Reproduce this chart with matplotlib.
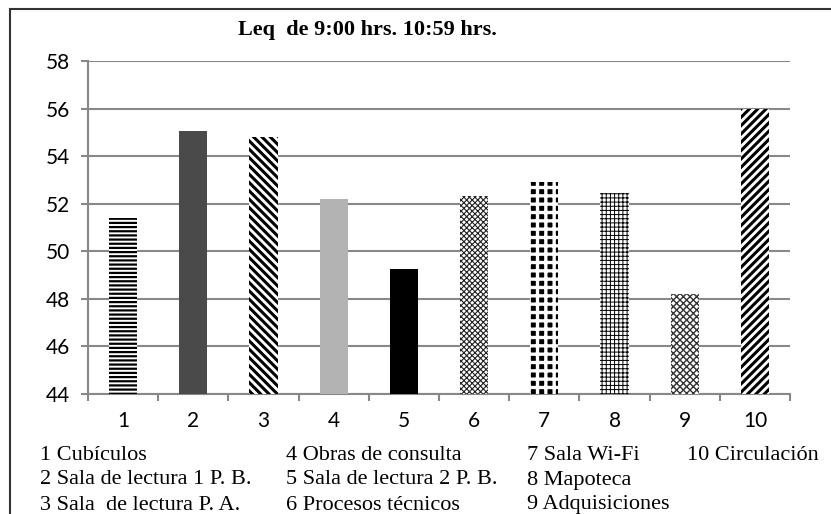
import numpy as np
import matplotlib.pyplot as plt
from matplotlib.patches import Rectangle

# bar data
categories = ['1', '2', '3', '4', '5', '6', '7', '8', '9', '10']
leq_values = [51.4, 55.05, 54.8, 52.18, 49.25, 52.32, 52.9, 52.46, 48.2, 56.0]

legend_cols = [
    ['1 Cubículos', '2 Sala de lectura 1 P. B.', '3 Sala  de lectura P. A.'],
    ['4 Obras de consulta', '5 Sala de lectura 2 P. B.', '6 Procesos técnicos'],
    ['7 Sala Wi-Fi', '8 Mapoteca', '9 Adquisiciones'],
    ['10 Circulación'],
]
title = 'Leq  de 9:00 hrs. 10:59 hrs.'

# fill style per bar: (facecolor, hatch, hatchcolor, hatch linewidth)
# bar 7: white grid over black leaves a field of black dots
styles = [
    ('white', '----', 'black', 1.6),
    ('#4a4a4a', None, None, None),
    ('white', '\\\\\\\\', 'black', 2.2),
    ('#b3b3b3', None, None, None),
    ('black', None, None, None),
    ('white', 'xxxxxx', '#222222', 0.8),
    ('black', '++', 'white', 2.4),
    ('white', '++++', 'black', 0.7),
    ('white', 'xxxxx', '#333333', 1.0),
    ('white', '////', 'black', 2.2),
]

plt.rcParams['hatch.linewidth'] = 1.6

fig = plt.figure(figsize=(8.31, 5.14), dpi=100)
ax = fig.add_axes([0.1059, 0.2335, 0.8448, 0.6478])

x = np.arange(1, len(categories) + 1)
for xi, v, (fc, h, hc, hlw) in zip(x, leq_values, styles):
    b = ax.bar(xi, v - 44, bottom=44, width=0.4, color=fc, zorder=3)[0]
    if h:
        b.set_hatch(h)
        b.set_edgecolor(hc)
        b.set_linewidth(0)
        if hasattr(b, 'set_hatch_linewidth'):
            b.set_hatch_linewidth(hlw)

ax.set_xlim(0.5, 10.5)
ax.set_ylim(44, 58)
ax.set_yticks(np.arange(44, 59, 2))
ax.set_xticks(x)
ax.set_xticklabels(categories)
ax.set_xticks(np.arange(0.5, 11, 1), minor=True)
ax.tick_params(axis='x', which='major', length=0, pad=12)
ax.tick_params(axis='x', which='minor', length=5, width=1.5, color='#888888', direction='out')
ax.tick_params(axis='y', length=5, width=1.5, color='#888888', direction='out', pad=8)
for lab in ax.get_xticklabels() + ax.get_yticklabels():
    lab.set_fontfamily('Lato')
    lab.set_fontsize(15)

ax.grid(axis='y', color='#888888', linewidth=1.5, zorder=0)
ax.set_axisbelow(True)
for s in ['top', 'right']:
    ax.spines[s].set_visible(False)
for s in ['left', 'bottom']:
    ax.spines[s].set_color('#888888')
    ax.spines[s].set_linewidth(1.5)

fig.text(367 / 831, 1 - 30 / 514, title, ha='center', va='center',
         fontfamily='Liberation Serif', fontweight='bold', fontsize=16)

# numbered key under the axis
col_x = [40, 286, 527, 687]
row_y = [455, 480, 505]
for cx, col in zip(col_x, legend_cols):
    for ry, txt in zip(row_y, col):
        fig.text(cx / 831, 1 - ry / 514, txt, ha='left', va='center',
                 fontfamily='Liberation Serif', fontsize=16)

# outer frame, running off the right and bottom edges
fig.patches.append(Rectangle((10 / 831, -0.1), 1.2, 1 - 9 / 514 + 0.1,
                             transform=fig.transFigure, fill=False,
                             edgecolor='#333333', linewidth=1.5))

fig.savefig('out.png', dpi=100)
